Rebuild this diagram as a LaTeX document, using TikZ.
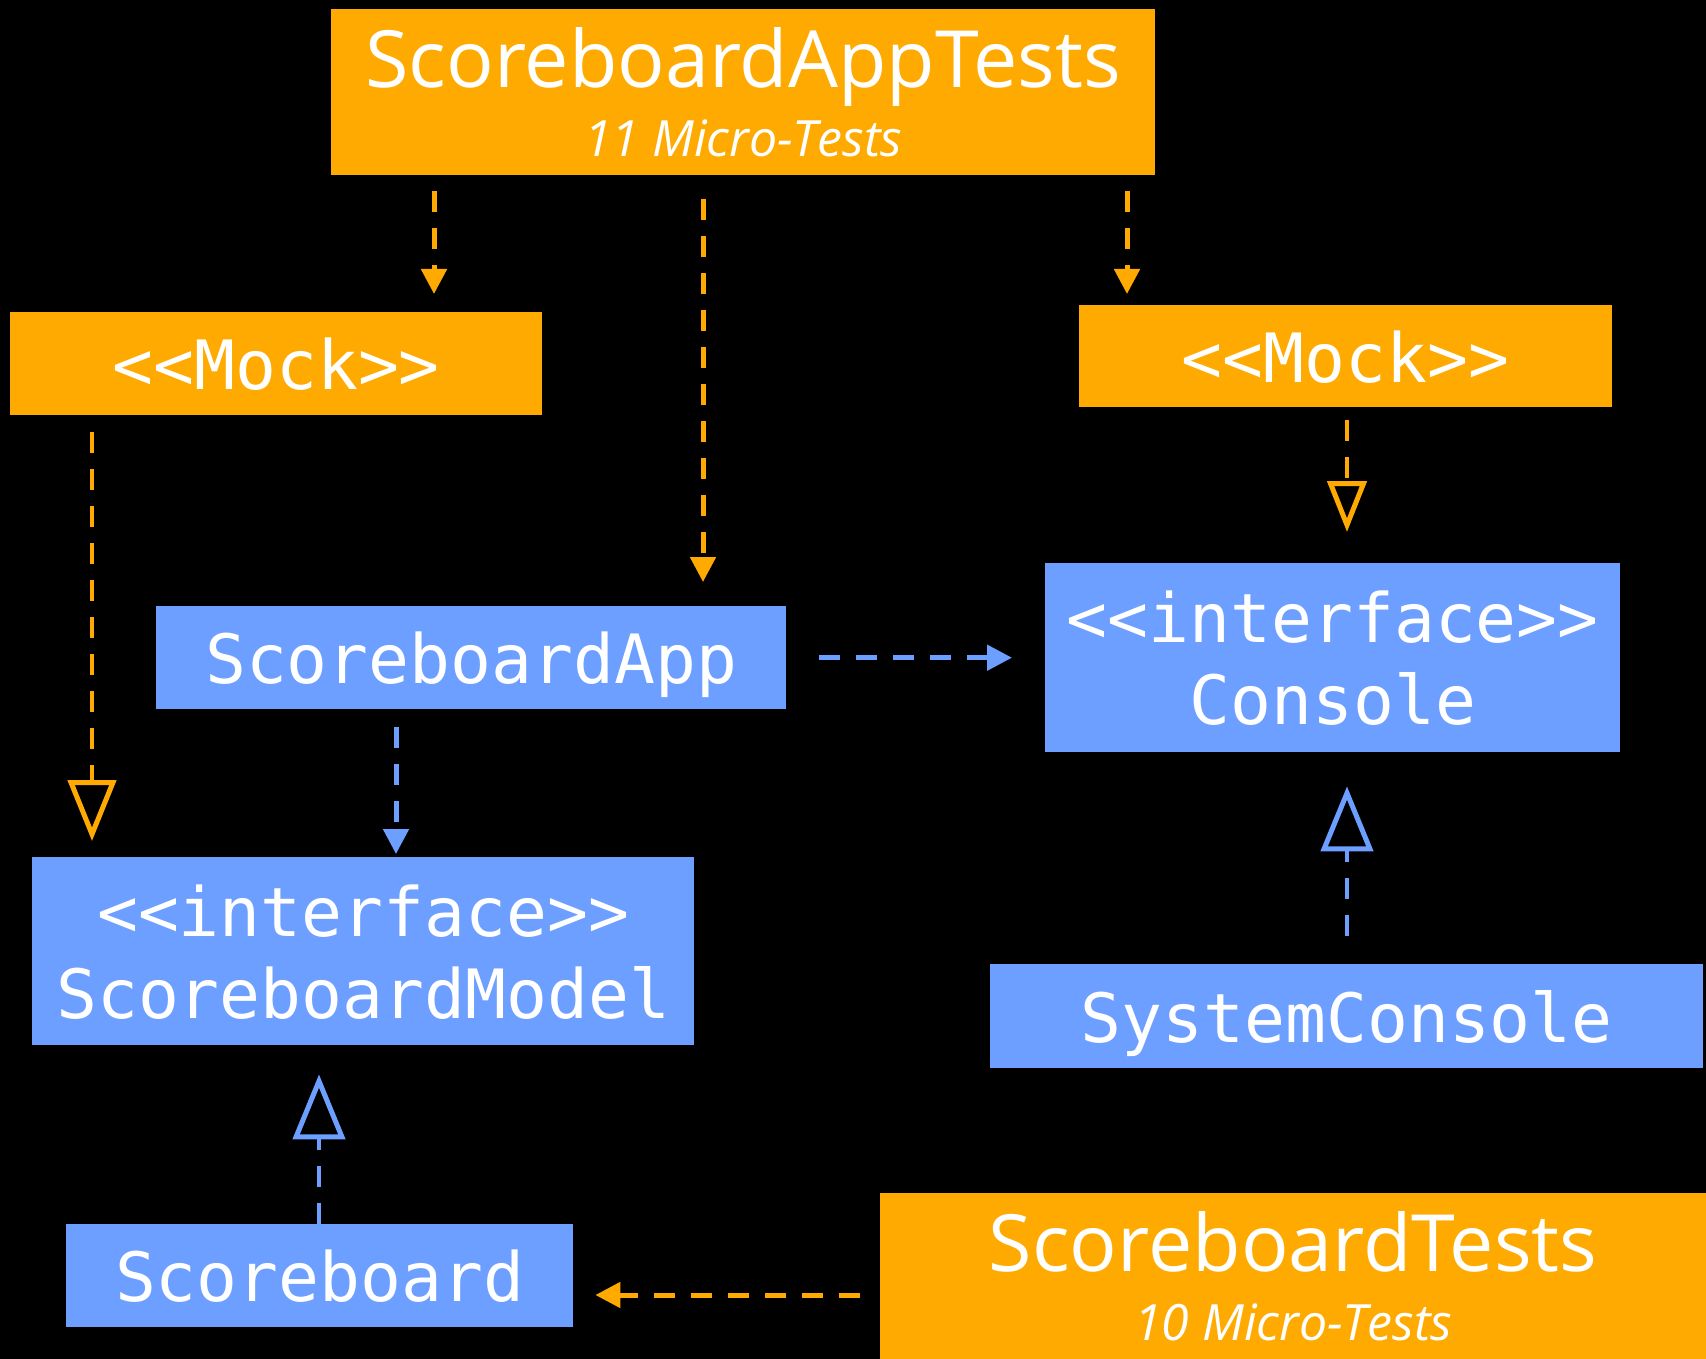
\documentclass[tikz,border=0pt]{standalone}
\usepackage{fontspec}
\setmainfont{Open Sans}
\setmonofont{DejaVu Sans Mono}
\usetikzlibrary{arrows.meta}
\definecolor{mockorange}{RGB}{255,170,0}
\definecolor{classblue}{RGB}{108,159,255}

\begin{document}
\begin{tikzpicture}[x=1pt,y=-1pt,
  box/.style={anchor=north west,inner sep=0pt,text=white,text depth=0pt,align=center},
  testbox/.style={box,fill=mockorange,font=\fontsize{79}{69}\selectfont},
  mockbox/.style={box,fill=mockorange,font=\ttfamily\fontsize{68}{82}\selectfont},
  classbox/.style={box,fill=classblue,font=\ttfamily\fontsize{68}{82}\selectfont},
  dep/.style={line width=5pt,dash pattern=on 21pt off 16pt,-{Triangle[length=25pt,width=25pt]}},
  impl/.style 2 args={line width=4pt,dash pattern=on 21pt off 16pt,
    -{Triangle[open,length=#1,width=#2,line width=5pt]}},
]
  \useasboundingbox (0,0) rectangle (1706,1359);
  \fill[black] (0,0) rectangle (1706,1359);

  % boxes
  \node[testbox,minimum width=824pt,minimum height=166pt] (top) at (331,9)
    {ScoreboardAppTests\\{\itshape\fontsize{50}{69}\selectfont 11 Micro-Tests}};
  \node[mockbox,minimum width=532pt,minimum height=103pt] (mockL) at (10,312) {<{}<Mock>{}>};
  \node[mockbox,minimum width=533pt,minimum height=102pt] (mockR) at (1079,305) {<{}<Mock>{}>};
  \node[classbox,minimum width=575pt,minimum height=189pt] (console) at (1045,563)
    {<{}<interface>{}>\\Console};
  \node[classbox,minimum width=630pt,minimum height=103pt] (app) at (156,606) {ScoreboardApp};
  \node[classbox,minimum width=662pt,minimum height=188pt] (model) at (32,857)
    {<{}<interface>{}>\\ScoreboardModel};
  \node[classbox,minimum width=713pt,minimum height=104pt] (sys) at (990,964) {SystemConsole};
  \node[classbox,minimum width=507pt,minimum height=103pt] (sb) at (66,1224) {Scoreboard};
  \node[testbox,minimum width=826pt,minimum height=166pt] (tests) at (880,1193)
    {ScoreboardTests\\{\itshape\fontsize{50}{67}\selectfont 10 Micro-Tests}};

  % columns and rows of the connectors
  \coordinate (cA) at (434,0);
  \coordinate (cB) at (703,0);
  \coordinate (cC) at (1127,0);
  \coordinate (cD) at (92,0);
  \coordinate (cE) at (1347,0);
  \coordinate (cF) at (396,0);
  \coordinate (cG) at (319,0);
  \coordinate (rT) at (0,1295);

  % uses
  \draw[dep,mockorange,shorten <=16pt,shorten >=18pt] (top.south -| cA) -- (mockL.north -| cA);
  \draw[dep,mockorange,shorten <=24pt,shorten >=24pt] (top.south -| cB) -- (app.north -| cB);
  \draw[dep,mockorange,shorten <=16pt,shorten >=11pt] (top.south -| cC) -- (mockR.north -| cC);
  \draw[dep,classblue,shorten <=18pt,shorten >=3pt] (app.south -| cF) -- (model.north -| cF);
  \draw[dep,classblue,shorten <=33pt,shorten >=33pt] (app.east) -- (console.west);
  \draw[dep,mockorange,shorten <=20pt,shorten >=22pt] (tests.west |- rT) -- (sb.east |- rT);

  % realizations
  \draw[impl={61pt}{48pt},mockorange,shorten <=17pt,shorten >=16pt] (mockL.south -| cD) -- (model.north -| cD);
  \draw[impl={51pt}{39pt},mockorange,shorten <=13pt,shorten >=31pt] (mockR.south -| cE) -- (console.north -| cE);
  \draw[impl={65pt}{52pt},classblue,shorten <=28pt,shorten >=34pt] (sys.north -| cE) -- (console.south -| cE);
  \draw[impl={65pt}{52pt},classblue,shorten >=29pt] (sb.north -| cG) -- (model.south -| cG);
\end{tikzpicture}
\end{document}
